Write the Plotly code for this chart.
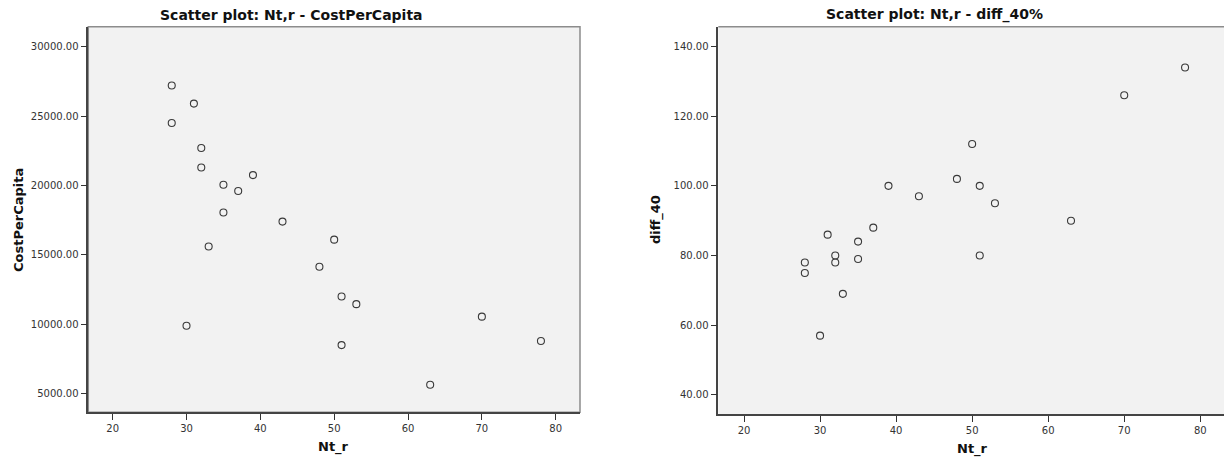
import plotly.graph_objects as go

# ---- data ----
nt_r = [28, 28, 30, 31, 32, 32, 33, 35, 35, 37, 39, 43, 48, 50, 51, 51, 53, 63, 70, 78]
cost_per_capita = [27200, 24500, 9900, 25900, 22700, 21300, 15600, 20050, 18050, 19600,
                   20750, 17400, 14150, 16100, 12000, 8500, 11450, 5650, 10550, 8800]
diff_40 = [78, 75, 57, 86, 80, 78, 69, 84, 79, 88,
           100, 97, 102, 112, 100, 80, 95, 90, 126, 134]

title_left = "Scatter plot: Nt,r - CostPerCapita"
title_right = "Scatter plot: Nt,r - diff_40%"
xlabel = "Nt_r"
ylabel_left = "CostPerCapita"
ylabel_right = "diff_40"

W, H = 1224, 459
FONT = "DejaVu Sans"
TICKC = "#333333"

def px(x):
    return x / W

def py(y):
    return 1 - y / H

marker = dict(symbol="circle-open", size=7, color="#3a3a3a", line=dict(width=1.1, color="#3a3a3a"))

fig = go.Figure()
fig.add_trace(go.Scatter(x=nt_r, y=cost_per_capita, mode="markers", marker=marker,
                         xaxis="x", yaxis="y", showlegend=False))
fig.add_trace(go.Scatter(x=nt_r, y=diff_40, mode="markers", marker=marker,
                         xaxis="x2", yaxis="y2", showlegend=False))

axis_common = dict(
    showgrid=False, zeroline=False, showline=True, linecolor="#444444", linewidth=1.5,
    ticks="outside", ticklen=6, tickwidth=1, tickcolor=TICKC,
    tickfont=dict(family=FONT, size=10, color=TICKC),
)

fig.update_layout(
    width=W, height=H,
    margin=dict(l=0, r=0, t=0, b=0),
    paper_bgcolor="white",
    plot_bgcolor="#f2f2f2",
    xaxis=dict(domain=[px(88.3), px(580)], range=[16.70, 83.29], tick0=0, dtick=10,
               anchor="y", **axis_common),
    yaxis=dict(domain=[py(412.3), py(26.7)], range=[3660, 31440], tick0=0, dtick=5000,
               tickformat=".2f", anchor="x", **axis_common),
    xaxis2=dict(domain=[px(718.3), 1.0], range=[16.62, 83.12], tick0=0, dtick=10,
                anchor="y2", **axis_common),
    yaxis2=dict(domain=[py(414), py(26.7)], range=[34.5, 145.7], tick0=0, dtick=20,
                tickformat=".2f", anchor="x2", **axis_common),
)

# frames (top/right lighter)
fig.add_shape(type="rect", xref="x domain", yref="y domain", x0=0, x1=1, y0=0, y1=1,
              line=dict(color="#8c8c8c", width=1.5), layer="below")
fig.add_shape(type="line", xref="x2 domain", yref="y2 domain", x0=0, x1=1, y0=1, y1=1,
              line=dict(color="#8c8c8c", width=1.5), layer="below")

tfont = dict(family=FONT, size=14, color="#111111")
lfont = dict(family=FONT, size=13, color="#111111")
ann = [
    dict(text="<b>%s</b>" % title_left, x=px(291), y=py(15), font=tfont),
    dict(text="<b>%s</b>" % title_right, x=px(935), y=py(15), font=tfont),
    dict(text="<b>%s</b>" % xlabel, x=px(334), y=py(447), font=lfont),
    dict(text="<b>%s</b>" % xlabel, x=px(972), y=py(449), font=lfont),
    dict(text="<b>%s</b>" % ylabel_left, x=px(18), y=py(220), font=lfont, textangle=-90),
    dict(text="<b>%s</b>" % ylabel_right, x=px(656), y=py(220), font=lfont, textangle=-90),
]
for a in ann:
    a.update(xref="paper", yref="paper", showarrow=False, xanchor="center", yanchor="middle")
    fig.add_annotation(**a)

fig.write_html("out.html")
